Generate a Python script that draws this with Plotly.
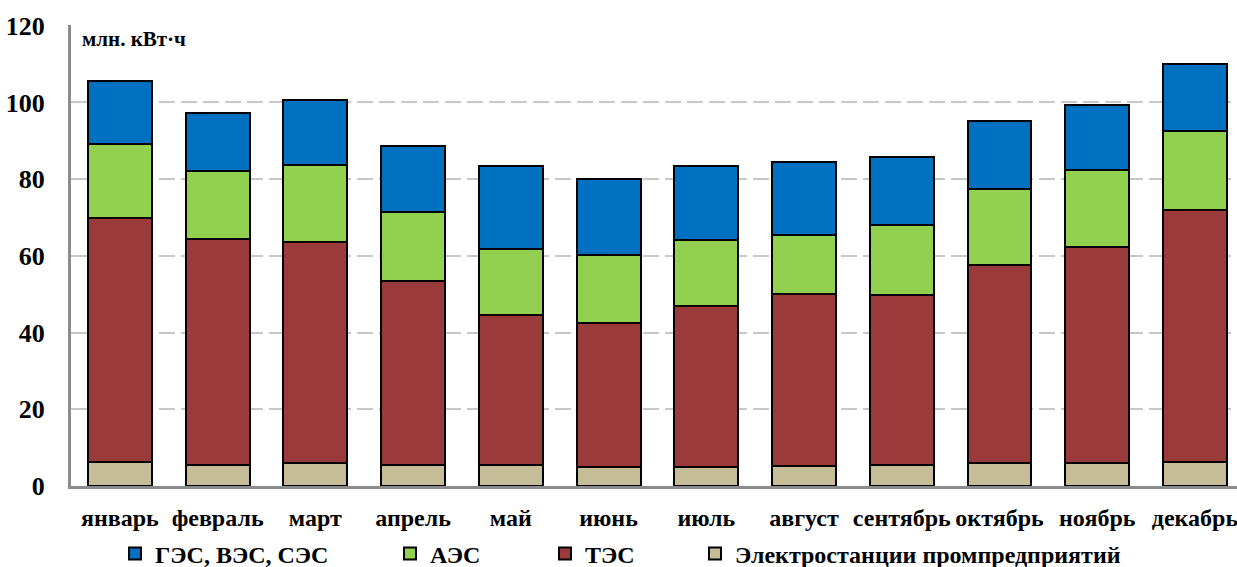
import plotly.graph_objects as go

# Monthly electricity generation by type of power plant, million kWh
months = ["январь", "февраль", "март", "апрель", "май", "июнь",
          "июль", "август", "сентябрь", "октябрь", "ноябрь", "декабрь"]
industrial = [6.3, 5.6, 6.0, 5.6, 5.5, 4.9, 5.0, 5.2, 5.5, 6.0, 6.1, 6.2]
thermal = [63.5, 58.9, 57.5, 47.9, 39.1, 37.7, 42.0, 44.8, 44.3, 51.5, 56.1, 65.7]
nuclear = [19.4, 17.6, 20.2, 18.0, 17.3, 17.6, 17.1, 15.4, 18.2, 20.0, 20.1, 20.7]
renewable = [16.3, 15.1, 17.0, 17.1, 21.5, 19.9, 19.3, 19.1, 17.9, 17.6, 17.0, 17.4]

y_ticks = [0, 20, 40, 60, 80, 100, 120]

W, H = 1237, 567
FONT = "Times New Roman, Liberation Serif, DejaVu Serif, serif"

series = [
    ("Электростанции промпредприятий", industrial, "#C4BD97", "legend4", 739),
    ("ТЭС", thermal, "#9B3A3A", "legend3", 589),
    ("АЭС", nuclear, "#92D050", "legend2", 434),
    ("ГЭС, ВЭС, СЭС", renewable, "#0070C0", "legend", 159),
]

fig = go.Figure()
for name, vals, color, leg, _ in series:
    fig.add_trace(go.Bar(
        name=name, x=list(range(len(months))), y=vals,
        marker=dict(color=color, line=dict(color="black", width=2)),
        width=0.654, legend=leg,
    ))

legend_style = dict(
    orientation="h", xref="container", yref="container",
    yanchor="middle", xanchor="left", y=1 - 554 / H,
    bgcolor="rgba(0,0,0,0)", borderwidth=0,
    font=dict(family=FONT, size=24, color="black", weight="bold"),
)
layout_legends = {}
for name, vals, color, leg, text_x in series:
    layout_legends[leg] = dict(legend_style, x=(text_x - 44) / W)

fig.update_layout(
    width=W, height=H,
    margin=dict(l=71, r=0, t=25, b=81, autoexpand=False),
    paper_bgcolor="white", plot_bgcolor="white",
    barmode="stack", bargap=0.35,
    showlegend=True,
    font=dict(family=FONT),
    xaxis=dict(
        range=[-0.5, 11.43], automargin=False, ticklabeloverflow="allow",
        tickmode="array", tickvals=list(range(len(months))), ticktext=months,
        tickfont=dict(family=FONT, size=24, color="black", weight="bold"),
        ticks="outside", ticklen=8, tickcolor="rgba(0,0,0,0)",
        showline=True, linecolor="#8C8C8C", linewidth=3,
        showgrid=False, zeroline=False, fixedrange=True,
    ),
    yaxis=dict(
        range=[0, 120.2], automargin=False,
        tickmode="array", tickvals=y_ticks,
        tickfont=dict(family=FONT, size=26, color="black", weight="bold"),
        ticks="outside", ticklen=18, tickcolor="rgba(0,0,0,0)",
        showline=True, linecolor="#8C8C8C", linewidth=3,
        showgrid=True, gridcolor="#C8C8C8", gridwidth=2, griddash="16px,6px",
        zeroline=False, fixedrange=True,
    ),
    annotations=[dict(
        text="<b>млн. кВт·ч</b>", xref="paper", yref="paper",
        x=0.008, y=1 - 14 / 461, xanchor="left", yanchor="middle",
        showarrow=False, font=dict(family=FONT, size=21, color="black"),
    )],
    **layout_legends,
)

fig.write_html("out.html")
